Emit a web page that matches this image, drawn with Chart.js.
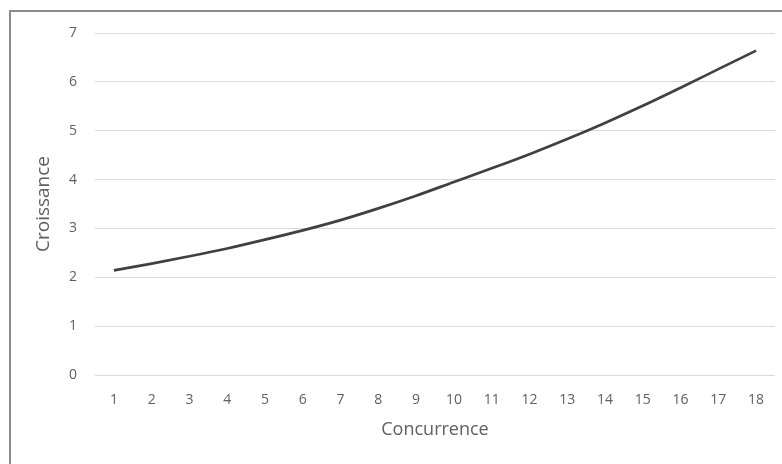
<!DOCTYPE html>
<html>
<head>
<meta charset="utf-8">
<script src="https://cdn.jsdelivr.net/npm/chart.js@4/dist/chart.umd.min.js"></script>
<style>
    html, body { margin: 0; padding: 0; background: #fff; }
    #wrap { position: relative; width: 782px; height: 464px; overflow: hidden; }
    #frame {
        position: absolute; left: 9px; top: 10px; width: 800px; height: 500px;
        border-left: 2px solid #8c8c8c; border-top: 2px solid #8c8c8c;
        pointer-events: none;
    }
    canvas { position: absolute; left: 0; top: 0; }
</style>
</head>
<body>
<div id="wrap">
    <canvas id="chart" width="782" height="464"></canvas>
    <div id="frame"></div>
</div>
<script>
'use strict';

// categories on the x axis
const concurrence = ['1', '2', '3', '4', '5', '6', '7', '8', '9', '10', '11', '12', '13', '14', '15', '16', '17', '18'];

// values
const croissance = [2.14, 2.28, 2.43, 2.59, 2.77, 2.96, 3.17, 3.41, 3.67, 3.95, 4.23, 4.52, 4.83, 5.16, 5.51, 5.88, 6.26, 6.64];

const yMin = 0,
    yMax = 7,
    yStep = 1;

const xTitle = 'Concurrence',
    yTitle = 'Croissance';

const font = '"Open Sans", "Liberation Sans", sans-serif',
    textColor = '#606060',
    gridColor = '#d9d9d9';

new Chart(document.getElementById('chart'), {
    type: 'line',
    data: {
        labels: concurrence,
        datasets: [{
            data: croissance,
            borderColor: '#404040',
            borderWidth: 2.7,
            pointRadius: 0,
            cubicInterpolationMode: 'monotone',
            fill: false
        }]
    },
    options: {
        responsive: false,
        animation: false,
        layout: { padding: { top: 33, right: 7, bottom: 19, left: 28 } },
        plugins: {
            legend: { display: false },
            tooltip: { enabled: false }
        },
        scales: {
            x: {
                offset: true,
                grid: { display: false, drawTicks: false },
                border: { display: false },
                ticks: {
                    color: textColor,
                    font: { family: font, size: 14 },
                    padding: 17,
                    maxRotation: 0
                },
                title: {
                    display: true,
                    text: xTitle,
                    color: textColor,
                    font: { family: font, size: 18 },
                    padding: { top: 2 }
                },
                afterFit: s => { s.height = 70; }
            },
            y: {
                min: yMin,
                max: yMax,
                grid: { color: gridColor, lineWidth: 1, drawTicks: false },
                border: { display: false },
                ticks: {
                    stepSize: yStep,
                    color: textColor,
                    font: { family: font, size: 14 },
                    padding: 18
                },
                title: {
                    display: true,
                    text: yTitle,
                    color: textColor,
                    font: { family: font, size: 19 },
                    padding: { bottom: 8 }
                },
                afterFit: s => { s.width = 67; }
            }
        }
    }
});
</script>
</body>
</html>
